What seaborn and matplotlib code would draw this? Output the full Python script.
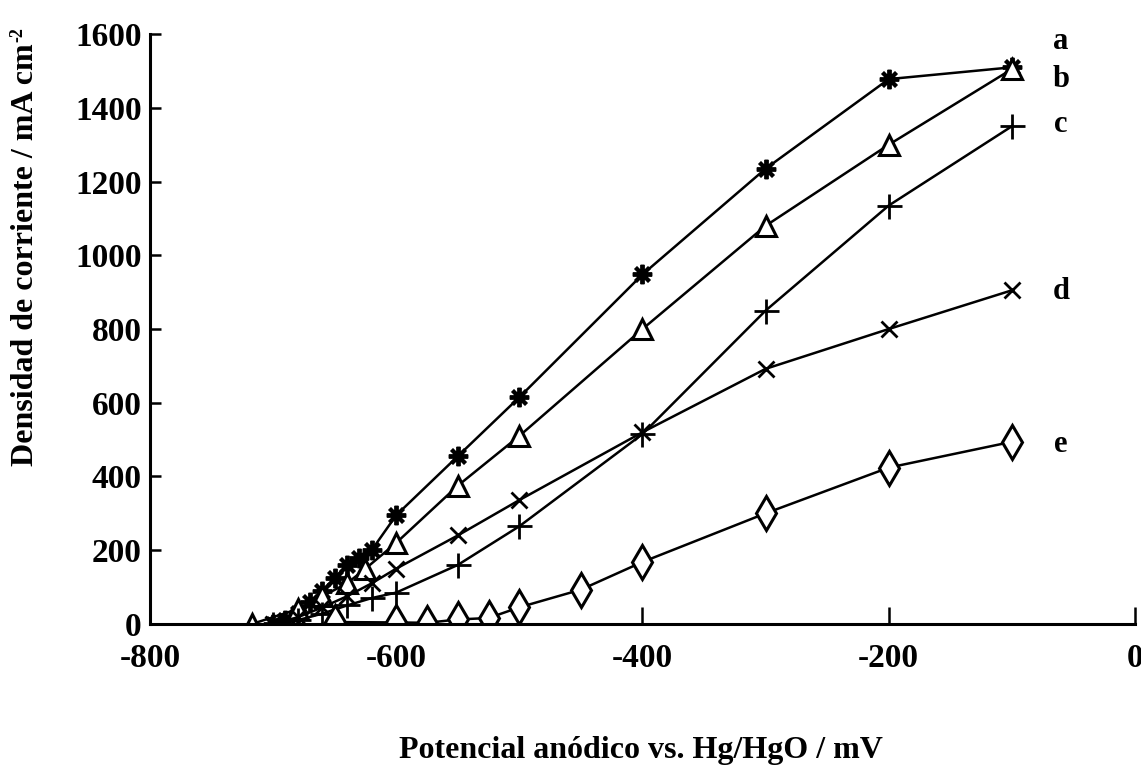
import pandas as pd
import numpy as np
import matplotlib
matplotlib.use('Agg')
import matplotlib.pyplot as plt
import seaborn as sns

# Curve data (potential in mV, current density in mA cm-2)
a_x = [-700, -690, -680, -670, -660, -650, -640, -630, -620, -600, -550, -500, -400, -300, -200, -100]
a_y = [0, 10, 30, 60, 90, 125, 160, 180, 200, 295, 455, 615, 948, 1235, 1478, 1510]

b_x = [-717, -680, -660, -640, -625, -600, -550, -500, -400, -300, -200, -100]
b_y = [0, 40, 75, 110, 150, 220, 375, 510, 800, 1080, 1300, 1505]

c_x = [-700, -680, -660, -640, -620, -600, -550, -500, -400, -300, -200, -100]
c_y = [0, 10, 28, 50, 70, 85, 160, 265, 515, 850, 1135, 1350]

d_x = [-700, -680, -660, -640, -620, -600, -550, -500, -400, -300, -200, -100]
d_y = [0, 18, 45, 75, 110, 150, 240, 336, 520, 692, 800, 905]

e_x = [-650, -600, -575, -550, -525, -500, -450, -400, -300, -200, -100]
e_y = [5, 4, 3, 12, 16, 45, 93, 168, 300, 424, 494]

curve_names = ['a', 'b', 'c', 'd', 'e']
label_y = [1580, 1478, 1356, 903, 488]

frames = []
for name, xs, ys in zip(curve_names, [a_x, b_x, c_x, d_x, e_x], [a_y, b_y, c_y, d_y, e_y]):
    frames.append(pd.DataFrame({'potencial': xs, 'densidad': ys, 'curva': name}))
df = pd.concat(frames, ignore_index=True)

sns.set_style('ticks')
plt.rcParams['font.family'] = ['Liberation Serif', 'DejaVu Serif']
plt.rcParams['font.weight'] = 'bold'
plt.rcParams['axes.unicode_minus'] = False
for key in ['text.color', 'axes.labelcolor', 'xtick.color', 'ytick.color', 'axes.edgecolor']:
    plt.rcParams[key] = 'black'

fig = plt.figure(figsize=(11.41, 7.76), dpi=100)
ax = fig.add_axes([0.1315, 0.196, 0.8632, 0.760])

styles = {
    'a': dict(marker=(8, 2, 0), markersize=14, markeredgewidth=2.8, markerfacecolor='black'),
    'b': dict(marker='^', markersize=15, markeredgewidth=2.2, markerfacecolor='white'),
    'c': dict(marker='+', markersize=18, markeredgewidth=2.0),
    'd': dict(marker='x', markersize=12, markeredgewidth=2.0),
    'e': dict(marker='d', markersize=17, markeredgewidth=2.2, markerfacecolor='white'),
}

for name in curve_names:
    sub = df[df['curva'] == name]
    sns.lineplot(data=sub, x='potencial', y='densidad', ax=ax, color='black',
                 linewidth=1.8, markeredgecolor='black', sort=True,
                 estimator=None, legend=False, **styles[name])

for name, ly in zip(curve_names, label_y):
    ax.text(-60, ly, name, fontsize=22, fontweight='bold', ha='center', va='center')

ax.set_xlim(-800, 0)
ax.set_ylim(0, 1600)
ax.set_xticks(np.arange(-800, 1, 200))
ax.set_yticks(np.arange(0, 1601, 200))
ax.tick_params(axis='both', direction='in', width=1.8, labelsize=24)
ax.tick_params(axis='y', length=8, pad=6)
ax.tick_params(axis='x', length=12, pad=14)
for lbl in ax.get_xticklabels() + ax.get_yticklabels():
    lbl.set_fontweight('bold')

sns.despine(ax=ax)
for sp in ['left', 'bottom']:
    ax.spines[sp].set_linewidth(2.2)

ax.set_xlabel('')
ax.set_ylabel('')
fig.text(0.562, 0.033, 'Potencial anódico vs. Hg/HgO / mV', fontsize=23,
         fontweight='bold', ha='center', va='center')
fig.text(0.022, 0.672, 'Densidad de corriente / mA cm', fontsize=23,
         fontweight='bold', rotation=90, ha='center', va='center')
fig.text(0.016, 0.955, '-2', fontsize=13, fontweight='bold', rotation=90,
         ha='center', va='center')

fig.savefig('out.png', dpi=100)
